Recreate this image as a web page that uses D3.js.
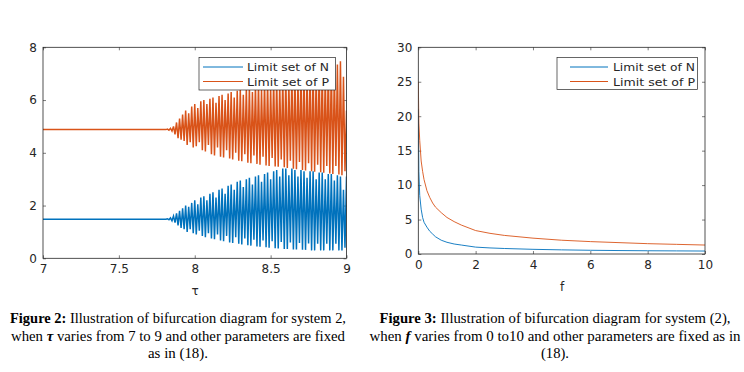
<!DOCTYPE html>
<html>
<head>
<meta charset="utf-8">
<script src="https://cdn.jsdelivr.net/npm/d3@7"></script>
<style>
  body { margin: 0; background: #fff; }
  svg { display: block; }
  .sans { font-family: 'DejaVu Sans', Verdana, sans-serif; }
  .cap { font-family: 'Times New Roman', 'Liberation Serif', Tinos, serif; }
</style>
</head>
<body>
<svg id="chart" width="744" height="372"></svg>
<script>
// ---- Figure 2: bifurcation in tau ----
var tau = [7.00, 7.80, 7.82, 7.84, 7.86, 7.88, 7.90, 7.92, 7.94, 7.96, 7.98, 8.00, 8.02, 8.04, 8.06, 8.08, 8.10, 8.12, 8.14, 8.16, 8.18, 8.20,
  8.22, 8.24, 8.26, 8.28, 8.30, 8.32, 8.34, 8.36, 8.38, 8.40, 8.42, 8.44, 8.46, 8.48, 8.50, 8.52, 8.54, 8.56, 8.58, 8.60,
  8.62, 8.64, 8.66, 8.68, 8.70, 8.72, 8.74, 8.76, 8.78, 8.80, 8.82, 8.84, 8.86, 8.88, 8.90, 8.92, 8.94, 8.96, 8.98, 9.00];
var pHigh = [4.88, 4.88, 4.90, 4.93, 5.00, 5.15, 5.30, 5.45, 5.60, 5.50, 5.75, 5.85, 5.70, 5.95, 6.00, 5.85, 6.05, 6.10, 5.90, 6.15, 6.20, 6.00,
  6.25, 6.30, 6.10, 6.35, 6.40, 6.20, 6.45, 6.50, 6.30, 6.55, 6.60, 6.40, 6.65, 6.70, 6.50, 6.75, 6.80, 6.60, 6.85, 6.90,
  6.70, 6.95, 7.00, 6.80, 7.05, 7.10, 6.90, 7.10, 7.15, 6.95, 7.20, 7.20, 7.00, 7.25, 7.30, 7.10, 7.35, 7.47, 6.88, 5.60];
var pLow = [4.88, 4.88, 4.86, 4.82, 4.70, 4.55, 4.50, 4.45, 4.30, 4.40, 4.20, 4.25, 4.40, 4.10, 4.05, 4.30, 3.95, 3.90, 4.20, 3.85, 3.82, 4.10,
  3.78, 3.75, 4.00, 3.70, 3.68, 3.95, 3.62, 3.60, 3.90, 3.58, 3.55, 3.85, 3.52, 3.50, 3.80, 3.48, 3.47, 3.75, 3.45, 3.42,
  3.70, 3.40, 3.38, 3.65, 3.35, 3.33, 3.60, 3.30, 3.28, 3.55, 3.26, 3.24, 3.50, 3.22, 3.20, 3.50, 3.18, 3.15, 3.30, 3.80];
var nHigh = [1.48, 1.48, 1.50, 1.53, 1.60, 1.70, 1.80, 1.90, 2.00, 1.95, 2.10, 2.20, 2.05, 2.30, 2.35, 2.20, 2.45, 2.50, 2.30, 2.60, 2.65, 2.45,
  2.75, 2.80, 2.60, 2.90, 2.95, 2.70, 3.00, 3.05, 2.80, 3.10, 3.15, 2.90, 3.20, 3.25, 3.00, 3.30, 3.35, 3.10, 3.40, 3.40,
  3.15, 3.40, 3.35, 3.10, 3.35, 3.30, 3.05, 3.30, 3.30, 3.00, 3.25, 3.25, 3.00, 3.20, 3.20, 2.95, 3.15, 3.10, 2.60, 3.10];
var nLow = [1.48, 1.48, 1.46, 1.42, 1.35, 1.25, 1.15, 1.10, 1.00, 1.10, 0.95, 0.90, 1.05, 0.85, 0.80, 0.95, 0.75, 0.72, 0.90, 0.68, 0.65, 0.85,
  0.60, 0.58, 0.80, 0.55, 0.52, 0.75, 0.50, 0.48, 0.70, 0.45, 0.44, 0.68, 0.42, 0.40, 0.65, 0.38, 0.37, 0.62, 0.35, 0.35,
  0.60, 0.33, 0.33, 0.58, 0.32, 0.32, 0.56, 0.30, 0.30, 0.55, 0.30, 0.30, 0.55, 0.30, 0.30, 0.55, 0.30, 0.30, 0.40, 0.60];
var tauTicks = [7, 7.5, 8, 8.5, 9];
var leftYTicks = [0, 2, 4, 6, 8];

// ---- Figure 3: limit set vs f ----
var fVals = [0, 0.02, 0.05, 0.1, 0.15, 0.2, 0.3, 0.4, 0.5, 0.6, 0.8, 1.0, 1.25, 1.5, 2, 2.5, 3, 4, 5, 6, 7, 8, 9, 10];
var pOfF = [25, 19, 16.5, 13.5, 12, 10.8, 9.2, 8.2, 7.4, 6.8, 6.0, 5.3, 4.7, 4.2, 3.4, 3.0, 2.7, 2.3, 2.0, 1.8, 1.65, 1.5, 1.4, 1.3];
var nOfF = [21, 12, 8.5, 6.5, 5.3, 4.6, 3.9, 3.3, 2.9, 2.5, 2.0, 1.7, 1.45, 1.3, 1.0, 0.88, 0.8, 0.68, 0.6, 0.54, 0.5, 0.47, 0.45, 0.43];
var fTicks = [0, 2, 4, 6, 8, 10];
var rightYTicks = [0, 5, 10, 15, 20, 25, 30];

var legendLabels = ["Limit set of N", "Limit set of P"];
var colors = ["#0072BD", "#D95319"];

var svg = d3.select("#chart");
var ink = "#262626";

function styleAxis(s) {
  s.select(".domain").remove();
  s.attr("font-family", null).attr("font-size", null);
  s.selectAll(".tick line").attr("stroke", ink).attr("stroke-width", 0.6);
  s.selectAll(".tick text").attr("class", "sans").attr("font-size", 12).attr("fill", ink);
}

function frame(x, y, xt, yt, clipId) {
  var g = svg.append("g");
  var x0 = x.range()[0], x1 = x.range()[1], y0 = y.range()[0], y1 = y.range()[1];
  g.append("defs").append("clipPath").attr("id", clipId)
    .append("rect").attr("x", x0).attr("y", y1).attr("width", x1 - x0).attr("height", y0 - y1);
  g.append("g").attr("transform", "translate(0," + y0 + ")")
    .call(d3.axisBottom(x).tickValues(xt).tickSizeInner(-3).tickSizeOuter(0).tickPadding(6).tickFormat(d3.format("")))
    .call(styleAxis);
  g.append("g").attr("transform", "translate(0," + y1 + ")")
    .call(d3.axisTop(x).tickValues(xt).tickSizeInner(-3).tickSizeOuter(0).tickFormat(""))
    .call(styleAxis);
  g.append("g").attr("transform", "translate(" + x0 + ",0)")
    .call(d3.axisLeft(y).tickValues(yt).tickSizeInner(-3).tickSizeOuter(0).tickPadding(6).tickFormat(d3.format("")))
    .call(styleAxis);
  g.append("g").attr("transform", "translate(" + x1 + ",0)")
    .call(d3.axisRight(y).tickValues(yt).tickSizeInner(-3).tickSizeOuter(0).tickFormat(""))
    .call(styleAxis);
  return g;
}

function box(x, y) {
  var x0 = x.range()[0], x1 = x.range()[1], y0 = y.range()[0], y1 = y.range()[1];
  svg.append("rect").attr("x", x0).attr("y", y1).attr("width", x1 - x0).attr("height", y0 - y1)
    .attr("fill", "none").attr("stroke", ink).attr("stroke-width", 0.8);
}

function legend(bx, by, bw, bh, lineX0, lineX1, textX) {
  var g = svg.append("g");
  g.append("rect").attr("x", bx).attr("y", by).attr("width", bw).attr("height", bh)
    .attr("fill", "#fff").attr("stroke", ink).attr("stroke-width", 0.7);
  legendLabels.forEach(function (lab, i) {
    var cy = by + 9.5 + i * 14.5;
    g.append("line").attr("x1", lineX0).attr("x2", lineX1).attr("y1", cy).attr("y2", cy)
      .attr("stroke", colors[i]).attr("stroke-width", 1);
    g.append("text").attr("class", "sans").attr("x", textX).attr("y", cy + 4)
      .attr("font-size", 11).attr("fill", ink)
      .attr("textLength", 82).attr("lengthAdjust", "spacingAndGlyphs").text(lab);
  });
}

// left chart
var xL = d3.scaleLinear().domain([7, 9]).range([43, 346.5]);
var yL = d3.scaleLinear().domain([0, 8]).range([258.3, 47.3]);
frame(xL, yL, tauTicks, leftYTicks, "clipL");

function zigzag(hi, lo) {
  var pts = [];
  tau.forEach(function (t, i) {
    pts.push([t, hi[i]]);
    pts.push([t + 0.01, lo[i]]);
  });
  return pts;
}
var lineL = d3.line().x(function (d) { return xL(d[0]); }).y(function (d) { return yL(d[1]); });
[[nHigh, nLow], [pHigh, pLow]].forEach(function (s, i) {
  svg.append("path").attr("clip-path", "url(#clipL)")
    .attr("d", lineL(zigzag(s[0], s[1])))
    .attr("fill", "none").attr("stroke", colors[i]).attr("stroke-width", 1.5);
});
box(xL, yL);
legend(199, 57.5, 136.5, 32.5, 203, 243, 247);
svg.append("text").attr("class", "sans").attr("x", 195).attr("y", 295).attr("text-anchor", "middle")
  .attr("font-size", 12).attr("fill", ink).text("τ");

// right chart
var xR = d3.scaleLinear().domain([0, 10]).range([418.3, 705]);
var yR = d3.scaleLinear().domain([0, 30]).range([254, 47.3]);
frame(xR, yR, fTicks, rightYTicks, "clipR");
var lineR = d3.line().x(function (d) { return xR(d[0]); }).y(function (d) { return yR(d[1]); });
[nOfF, pOfF].forEach(function (vals, i) {
  svg.append("path").attr("clip-path", "url(#clipR)")
    .attr("d", lineR(fVals.map(function (f, j) { return [f, vals[j]]; })))
    .attr("fill", "none").attr("stroke", colors[i]).attr("stroke-width", 0.9);
});
box(xR, yR);
legend(557, 57.5, 140.5, 32, 570, 608, 613);
svg.append("text").attr("class", "sans").attr("x", 562).attr("y", 291).attr("text-anchor", "middle")
  .attr("font-size", 12).attr("fill", ink).text("f");

// captions
var captions = [
  { cx: 178, lines: [
    { parts: [["Figure 2:", "bold", "normal"], [" Illustration of bifurcation diagram for system 2,", "normal", "normal"]], w: 336 },
    { parts: [["when ", "normal", "normal"], ["τ", "bold", "italic"], [" varies from 7 to 9 and other parameters are fixed", "normal", "normal"]], w: 334 },
    { parts: [["as in (18).", "normal", "normal"]], w: 60 }
  ] },
  { cx: 555, lines: [
    { parts: [["Figure 3:", "bold", "normal"], [" Illustration of bifurcation diagram for system (2),", "normal", "normal"]], w: 351 },
    { parts: [["when ", "normal", "normal"], ["f", "bold", "italic"], [" varies from 0 to10 and other parameters are fixed as in", "normal", "normal"]], w: 371 },
    { parts: [["(18).", "normal", "normal"]], w: 28 }
  ] }
];
var baselines = [323, 340.5, 358];
captions.forEach(function (c) {
  c.lines.forEach(function (ln, k) {
    var t = svg.append("text").attr("class", "cap").attr("x", c.cx).attr("y", baselines[k]).attr("text-anchor", "middle")
      .attr("font-size", 14).attr("fill", "#000")
      .attr("textLength", ln.w).attr("lengthAdjust", "spacingAndGlyphs");
    ln.parts.forEach(function (p) {
      t.append("tspan").attr("font-weight", p[1]).attr("font-style", p[2]).text(p[0]);
    });
  });
});
</script>
</body>
</html>
